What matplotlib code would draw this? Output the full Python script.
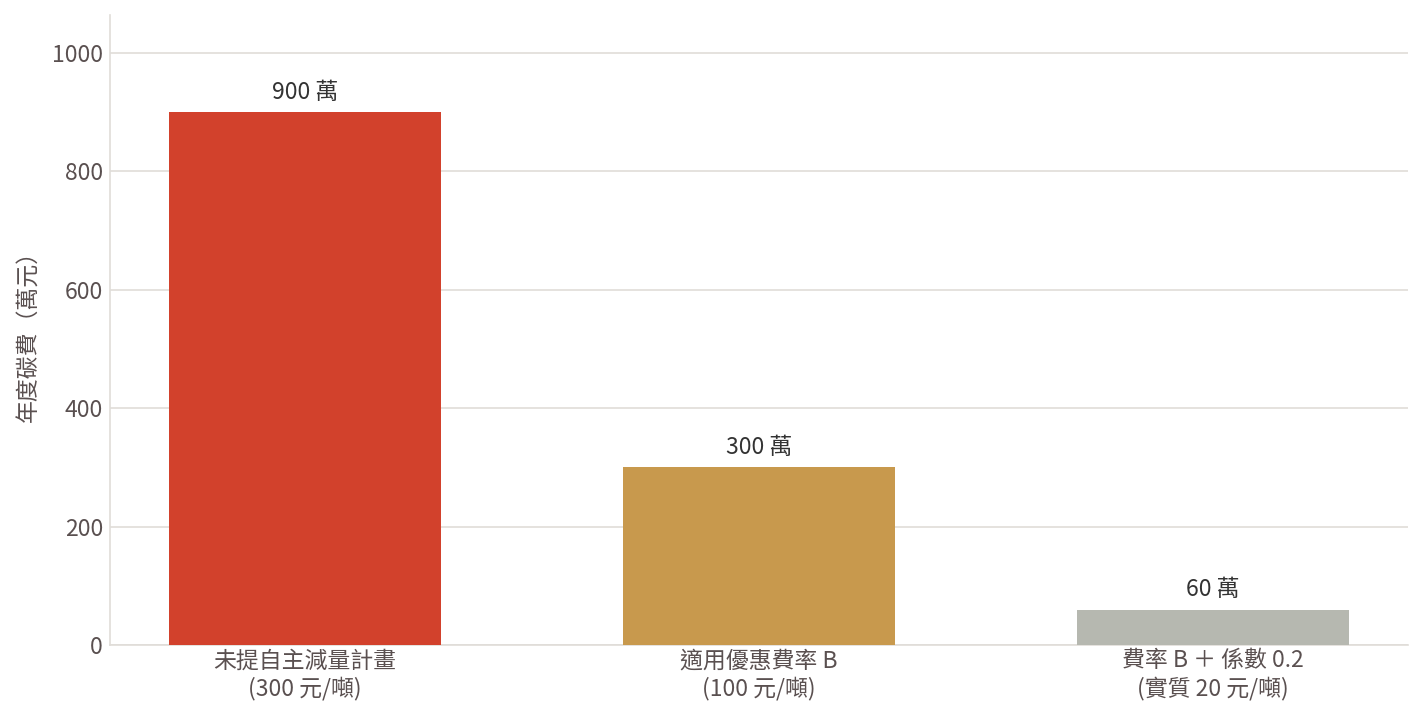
import matplotlib
matplotlib.use("Agg")
import matplotlib.pyplot as plt

plt.rcParams['font.family'] = ['Noto Sans CJK TC', 'DejaVu Sans']

categories = ["未提自主減量計畫\n(300 元/噸)", "適用優惠費率 B\n(100 元/噸)", "費率 B ＋ 係數 0.2\n(實質 20 元/噸)"]
costs = [900, 300, 60]
value_labels = ["900 萬", "300 萬", "60 萬"]
colors = ["#D2412C", "#C8994D", "#B6B8B0"]

fig = plt.figure(figsize=(14.23, 7.2), dpi=100)
ax = fig.add_axes([0.0773, 0.104, 0.9122, 0.875])

x = range(len(costs))
bars = ax.bar(x, costs, width=0.6, color=colors, zorder=3)
for b, lab in zip(bars, value_labels):
    ax.text(b.get_x() + b.get_width() / 2, b.get_height() + 14, lab,
            ha="center", va="bottom", fontsize=16.5, color="#333333")

ax.set_ylim(0, 1064)
ax.set_yticks([0, 200, 400, 600, 800, 1000])
ax.set_xticks(list(x))
ax.set_xticklabels(categories, linespacing=1.25)
ax.tick_params(axis="both", labelsize=16.5, colors="#5a5050", length=0)
ax.tick_params(axis="y", pad=5)
ax.tick_params(axis="x", pad=3)
ax.set_ylabel("年度碳費（萬元）", fontsize=16.5, color="#5a5050", labelpad=8)
ax.yaxis.grid(True, color="#e0ddd8", linewidth=1.2, zorder=0)
for s in ["top", "right"]:
    ax.spines[s].set_visible(False)
for s in ["left", "bottom"]:
    ax.spines[s].set_color("#e0ddd8")
    ax.spines[s].set_linewidth(1.2)

fig.savefig("out.png", dpi=100)
